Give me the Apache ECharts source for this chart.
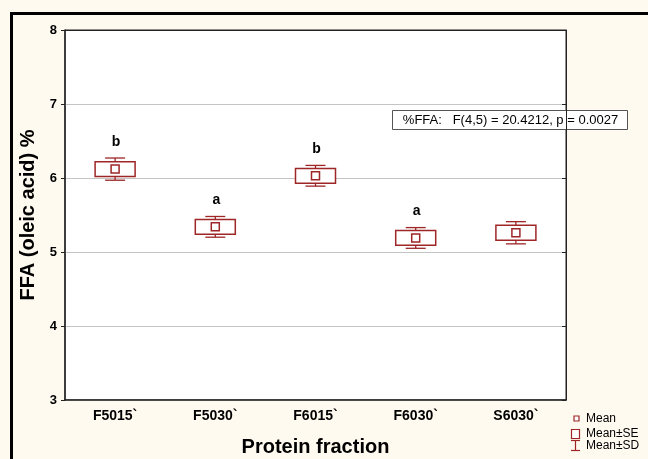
<!DOCTYPE html>
<html>
<head>
<meta charset="utf-8">
<script src="https://cdn.jsdelivr.net/npm/echarts@6/dist/echarts.min.js"></script>
<style>
  html, body { margin: 0; padding: 0; background: #fffaf0; }
  #chart { width: 648px; height: 459px; }
</style>
</head>
<body>
<div id="chart"></div>
<script>
// Free fatty acid content per protein fraction
const categories = ['F5015`', 'F5030`', 'F6015`', 'F6030`', 'S6030`'];
const means  = [6.12, 5.34, 6.03, 5.19, 5.26];
const seLow  = [6.02, 5.24, 5.93, 5.09, 5.16];
const seHigh = [6.22, 5.44, 6.13, 5.29, 5.36];
const sdLow  = [5.97, 5.20, 5.89, 5.05, 5.11];
const sdHigh = [6.27, 5.48, 6.17, 5.33, 5.41];
const letters = ['b', 'a', 'b', 'a', ''];
const yTicks = [3, 4, 5, 6, 7, 8];
const anovaText = '%FFA:   F(4,5) = 20.4212, p = 0.0027';

const RED = '#9e2626';
const FONT = 'Arial, "Liberation Sans", sans-serif';

const rows = categories.map((c, i) => [i, means[i], seLow[i], seHigh[i], sdLow[i], sdHigh[i]]);

const chart = echarts.init(document.getElementById('chart'), null, { renderer: 'canvas' });

function sdItem(params, api) {
  const x = api.value(0);
  const lo = api.coord([x, api.value(4)]);
  const hi = api.coord([x, api.value(5)]);
  const cap = 10;
  const st = { stroke: RED, lineWidth: 1.3 };
  return {
    type: 'group',
    children: [
      { type: 'line', shape: { x1: hi[0], y1: hi[1], x2: lo[0], y2: lo[1] }, style: st },
      { type: 'line', shape: { x1: hi[0] - cap, y1: hi[1], x2: hi[0] + cap, y2: hi[1] }, style: st },
      { type: 'line', shape: { x1: lo[0] - cap, y1: lo[1], x2: lo[0] + cap, y2: lo[1] }, style: st },
      {
        type: 'text',
        style: {
          text: letters[params.dataIndex],
          x: hi[0] + 1, y: hi[1] - 16,
          align: 'center', verticalAlign: 'middle',
          font: 'bold 14px ' + FONT, fill: '#000'
        }
      }
    ]
  };
}

function seItem(params, api) {
  const x = api.value(0);
  const lo = api.coord([x, api.value(2)]);
  const hi = api.coord([x, api.value(3)]);
  const w = 40;
  return {
    type: 'rect',
    shape: { x: hi[0] - w / 2, y: hi[1], width: w, height: lo[1] - hi[1] },
    style: { fill: '#fff', stroke: RED, lineWidth: 1.5 }
  };
}

function meanItem(params, api) {
  const p = api.coord([api.value(0), api.value(1)]);
  const s = 8;
  return {
    type: 'rect',
    shape: { x: p[0] - s / 2, y: p[1] - s / 2, width: s, height: s },
    style: { fill: '#fff', stroke: RED, lineWidth: 1.5 }
  };
}

const dims = ['x', 'mean', 'seLow', 'seHigh', 'sdLow', 'sdHigh'];

const option = {
  backgroundColor: '#fffaf0',
  animation: false,
  grid: {
    left: 65, top: 30, right: 82, bottom: 59,
    outerBoundsMode: 'none',
    containLabel: false,
    show: true, backgroundColor: '#fff', borderColor: '#222', borderWidth: 1
  },
  xAxis: [
    {
      type: 'category',
      data: categories,
      boundaryGap: true,
      name: 'Protein fraction',
      nameLocation: 'middle',
      nameGap: 37,
      nameTextStyle: { fontFamily: FONT, fontWeight: 'bold', fontSize: 20, color: '#000' },
      axisLine: { lineStyle: { color: '#222', width: 1.5 } },
      axisTick: { alignWithLabel: true, inside: true, length: 4, lineStyle: { color: '#222' } },
      axisLabel: { fontFamily: FONT, fontWeight: 'bold', fontSize: 14, color: '#000', margin: 9 },
      splitLine: { show: false }
    },
    {
      type: 'category',
      data: categories,
      position: 'top',
      boundaryGap: true,
      axisLine: { lineStyle: { color: '#222' } },
      axisTick: { alignWithLabel: true, inside: true, length: 4, lineStyle: { color: '#222' } },
      axisLabel: { show: false }
    }
  ],
  yAxis: [
    {
      type: 'value',
      min: yTicks[0], max: yTicks[yTicks.length - 1], interval: 1,
      name: 'FFA (oleic acid) %',
      nameLocation: 'middle',
      nameGap: 25,
      nameTextStyle: { fontFamily: FONT, fontWeight: 'bold', fontSize: 20, color: '#000' },
      axisLine: { show: true, lineStyle: { color: '#222', width: 1.5 } },
      axisTick: { show: true, length: 4, lineStyle: { color: '#222' } },
      axisLabel: { fontFamily: FONT, fontWeight: 'bold', fontSize: 13, color: '#000', margin: 8 },
      splitLine: { show: true, lineStyle: { color: '#c4c4c4', width: 1 } }
    },
    {
      type: 'value',
      position: 'right',
      min: yTicks[0], max: yTicks[yTicks.length - 1], interval: 1,
      axisLine: { show: true, lineStyle: { color: '#222' } },
      axisTick: { show: true, inside: true, length: 4, lineStyle: { color: '#222' } },
      axisLabel: { show: false },
      splitLine: { show: false }
    }
  ],
  series: [
    { name: 'Mean±SD', type: 'custom', renderItem: sdItem, dimensions: dims, encode: { x: 0, y: [4, 5] }, data: rows, z: 2 },
    { name: 'Mean±SE', type: 'custom', renderItem: seItem, dimensions: dims, encode: { x: 0, y: [2, 3] }, data: rows, z: 3 },
    { name: 'Mean', type: 'custom', renderItem: meanItem, dimensions: dims, encode: { x: 0, y: 1 }, data: rows, z: 4 }
  ],
  graphic: [
    // outer frame
    {
      type: 'rect', z: 100, silent: true,
      shape: { x: 11.5, y: 13.5, width: 760, height: 560 },
      style: { fill: 'none', stroke: '#000', lineWidth: 3 }
    },
    // ANOVA result box
    {
      type: 'group', left: 392, top: 110, z: 100,
      children: [
        { type: 'rect', shape: { x: 0, y: 0, width: 235, height: 19 }, style: { fill: '#fff', stroke: '#555', lineWidth: 1 } },
        { type: 'text', style: { text: anovaText, x: 118, y: 10, align: 'center', verticalAlign: 'middle', font: '13px ' + FONT, fill: '#000' } }
      ]
    },
    // key
    { type: 'rect', z: 100, shape: { x: 574, y: 416, width: 5, height: 5 }, style: { fill: '#fff', stroke: RED, lineWidth: 1.2 } },
    { type: 'text', z: 100, style: { text: 'Mean', x: 586, y: 419, verticalAlign: 'middle', font: '12px ' + FONT, fill: '#000' } },
    { type: 'rect', z: 100, shape: { x: 571.5, y: 429.5, width: 8, height: 9 }, style: { fill: '#fff', stroke: RED, lineWidth: 1.2 } },
    { type: 'text', z: 100, style: { text: 'Mean±SE', x: 586, y: 433.5, verticalAlign: 'middle', font: '12px ' + FONT, fill: '#000' } },
    { type: 'line', z: 100, shape: { x1: 575.5, y1: 440.5, x2: 575.5, y2: 450.5 }, style: { stroke: RED, lineWidth: 1.2 } },
    { type: 'line', z: 100, shape: { x1: 571, y1: 440.5, x2: 580, y2: 440.5 }, style: { stroke: RED, lineWidth: 1.2 } },
    { type: 'line', z: 100, shape: { x1: 571, y1: 450.5, x2: 580, y2: 450.5 }, style: { stroke: RED, lineWidth: 1.2 } },
    { type: 'text', z: 100, style: { text: 'Mean±SD', x: 586, y: 446, verticalAlign: 'middle', font: '12px ' + FONT, fill: '#000' } }
  ]
};

chart.setOption(option);
</script>
</body>
</html>
